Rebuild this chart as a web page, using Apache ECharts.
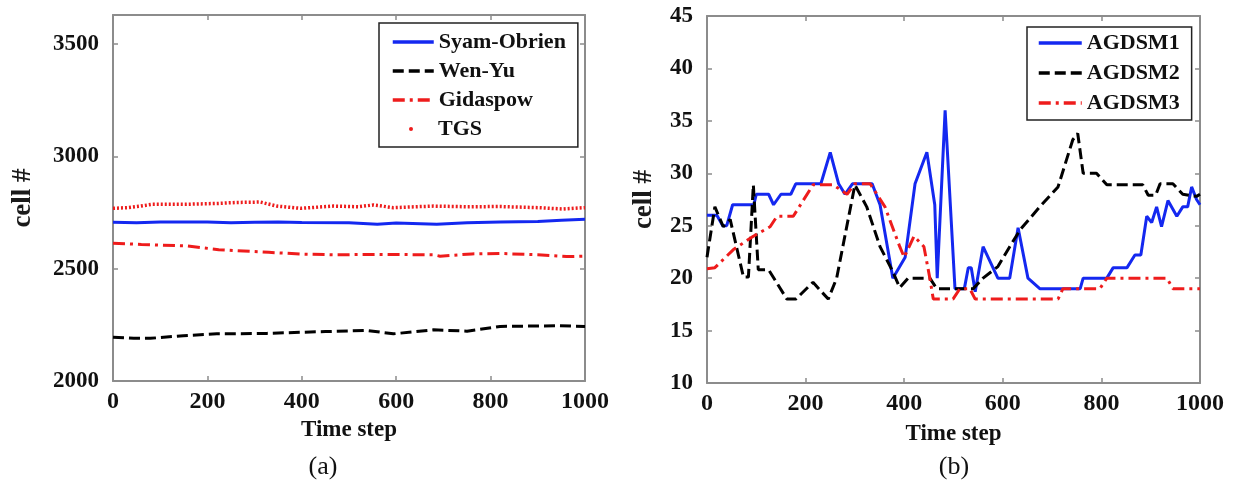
<!DOCTYPE html>
<html>
<head>
<meta charset="utf-8">
<script src="https://cdn.jsdelivr.net/npm/echarts@6/dist/echarts.min.js"></script>
<style>
  html, body { margin: 0; padding: 0; background: #fff; }
  #main { width: 1233px; height: 487px; }
</style>
</head>
<body>
<div id="main"></div>
<script>
// (a) left panel
var syamT = [0, 50, 100, 200, 250, 300, 350, 400, 500, 560, 600, 686, 750, 820, 900, 950, 1000];
var syamV = [2707, 2705, 2708, 2708, 2705, 2707, 2708, 2706, 2705, 2698, 2704, 2698, 2705, 2708, 2710, 2716, 2720];

var wenT = [0, 44, 79, 149, 220, 326, 397, 450, 538, 594, 679, 750, 820, 947, 1000];
var wenV = [2195, 2190, 2190, 2202, 2210, 2212, 2217, 2220, 2225, 2210, 2228, 2222, 2243, 2246, 2243];

var gidT = [0, 60, 154, 224, 330, 400, 467, 560, 679, 693, 760, 820, 900, 961, 1000];
var gidV = [2614, 2608, 2602, 2585, 2573, 2565, 2562, 2564, 2562, 2556, 2566, 2568, 2562, 2554, 2556];

var tgsT = [0, 30, 58, 84, 154, 224, 260, 312, 347, 397, 467, 520, 552, 594, 679, 750, 820, 900, 954, 1000];
var tgsV = [2769, 2772, 2779, 2787, 2787, 2791, 2795, 2797, 2779, 2769, 2779, 2776, 2784, 2772, 2779, 2776, 2777, 2772, 2766, 2772];

// (b) right panel
var ag1T = [0, 20, 32, 40, 52, 95, 100, 125, 135, 150, 170, 180, 231, 250, 267, 280, 295, 335, 351, 377, 402, 422, 446, 462, 467, 483, 503, 522, 530, 536, 544, 560, 590, 614, 631, 651, 675, 757, 763, 811, 824, 852, 868, 880, 892, 902, 912, 922, 935, 953, 965, 975, 983, 993, 1000];
var ag1V = [26, 26, 25, 25, 27, 27, 28, 28, 27, 28, 28, 29, 29, 32, 29, 28, 29, 29, 27, 20, 22, 29, 32, 27, 20, 36, 19, 19, 21, 21, 18.7, 23, 20, 20, 24.8, 20, 19, 19, 20, 20, 21, 21, 22.2, 22.2, 25.9, 25.3, 26.8, 24.9, 27.4, 25.9, 26.8, 26.8, 28.7, 27.5, 27];

var ag2T = [0, 16, 33, 47, 74, 84, 94, 104, 125, 162, 180, 215, 246, 263, 300, 324, 351, 375, 391, 408, 452, 466, 540, 560, 590, 614, 635, 675, 712, 742, 752, 763, 790, 811, 884, 895, 910, 919, 945, 965, 993, 1000];
var ag2V = [22, 26.8, 24.9, 25.6, 20.1, 20.1, 28.9, 20.8, 20.8, 18, 18, 19.6, 18, 20, 28.9, 26.8, 23, 20.8, 19.1, 20, 20, 19, 19, 20, 21.1, 23, 24.6, 26.8, 28.7, 33.2, 33.8, 30, 30, 28.9, 28.9, 27.9, 27.9, 29, 29, 28, 27.8, 28];

var ag3T = [0, 16, 53, 94, 128, 142, 175, 215, 256, 284, 300, 331, 361, 391, 400, 420, 440, 452, 459, 499, 513, 533, 544, 712, 722, 797, 811, 933, 945, 1000];
var ag3V = [20.9, 21, 22.7, 24, 24.9, 25.9, 25.9, 28.9, 28.9, 28, 29, 29, 26.8, 23, 22, 24, 23, 20, 18, 18, 19, 19, 18, 18, 19, 19, 20, 20, 19, 19];

function pairs(t, v) {
    var out = [];
    t.forEach(function (x, i) { out.push([x, v[i]]); });
    return out;
}

var BLUE = '#1428f0';
var RED = '#ee1c1c';
var BLACK = '#000';
var AXIS = '#8c8c8c';
var SERIF = '"Liberation Serif", "Times New Roman", serif';

function plain(v) { return String(v); }

function xAx(grid, pos, gap, show) {
    return {
        type: 'value', gridIndex: grid, position: pos, min: 0, max: 1000, interval: 200,
        name: show ? 'Time step' : '', nameLocation: 'middle', nameGap: gap,
        nameTextStyle: { fontFamily: SERIF, fontWeight: 'bold', fontSize: 23, color: '#111' },
        axisLine: { show: true, onZero: false, lineStyle: { color: AXIS, width: 2 } },
        axisTick: { show: true, inside: true, length: 5, lineStyle: { color: AXIS, width: 1.5 } },
        axisLabel: { show: show, margin: 9, formatter: plain, fontFamily: SERIF, fontWeight: 'bold', fontSize: 24, color: '#111' },
        splitLine: { show: false }
    };
}

function yAx(grid, pos, min, max, step, gap, show) {
    return {
        type: 'value', gridIndex: grid, position: pos, min: min, max: max, interval: step,
        name: show ? 'cell #' : '', nameLocation: 'middle', nameGap: gap,
        nameTextStyle: { fontFamily: SERIF, fontWeight: 'bold', fontSize: 27, color: '#1a1a1a' },
        axisLine: { show: true, onZero: false, lineStyle: { color: AXIS, width: 2 } },
        axisTick: { show: true, inside: true, length: 5, lineStyle: { color: AXIS, width: 1.5 } },
        axisLabel: { show: show, margin: 14, formatter: plain, showMaxLabel: max % step === 0, fontFamily: SERIF, fontWeight: 'bold', fontSize: 23, color: '#111' },
        splitLine: { show: false }
    };
}

function line(name, data, color, type, x, y, width) {
    return {
        name: name, type: 'line', xAxisIndex: x, yAxisIndex: y,
        data: data, symbol: 'none', animation: false,
        lineStyle: { color: color, width: width || 3, type: type },
        itemStyle: { color: color }
    };
}

var legendText = { fontFamily: SERIF, fontWeight: 'bold', fontSize: 22, color: '#111', lineHeight: 22 };

var chart = echarts.init(document.getElementById('main'));
chart.setOption({
    animation: false,
    backgroundColor: '#fff',
    grid: [
        { left: 113, top: 15, width: 472, height: 366 },
        { left: 707, top: 16, width: 493, height: 367 }
    ],
    xAxis: [
        xAx(0, 'bottom', 38, true),
        xAx(0, 'top', 0, false),
        xAx(1, 'bottom', 40, true),
        xAx(1, 'top', 0, false)
    ],
    yAxis: [
        yAx(0, 'left', 2000, 3630, 500, 76, true),
        yAx(0, 'right', 2000, 3630, 500, 0, false),
        yAx(1, 'left', 10, 45, 5, 49, true),
        yAx(1, 'right', 10, 45, 5, 0, false)
    ],
    legend: [
        {
            orient: 'vertical', left: 379, top: 23,
            data: ['Syam-Obrien', 'Wen-Yu', 'Gidaspow'],
            itemWidth: 41, itemHeight: 12, itemGap: 7,
            padding: [8, 12, 36, 12],
            itemStyle: { opacity: 0 },
            lineStyle: { width: 3.5 },
            borderColor: '#222', borderWidth: 1.5, backgroundColor: '#fff',
            textStyle: legendText
        },
        {
            orient: 'vertical', left: 409, top: 118,
            data: [{ name: 'TGS', icon: 'circle' }],
            itemWidth: 4, itemHeight: 4, padding: 0,
            textStyle: Object.assign({ padding: [0, 0, 0, 20] }, legendText)
        },
        {
            orient: 'vertical', left: 1027, top: 27,
            data: ['AGDSM1', 'AGDSM2', 'AGDSM3'],
            itemWidth: 43, itemHeight: 12, itemGap: 8,
            padding: [5, 12, 6, 10],
            itemStyle: { opacity: 0 },
            lineStyle: { width: 3.5 },
            borderColor: '#222', borderWidth: 1.5, backgroundColor: '#fff',
            textStyle: legendText
        }
    ],
    graphic: [
        { type: 'text', x: 323, y: 467, style: { text: '(a)', font: '26px ' + SERIF, fill: '#111', textAlign: 'center', textVerticalAlign: 'middle' } },
        { type: 'text', x: 954, y: 467, style: { text: '(b)', font: '26px ' + SERIF, fill: '#111', textAlign: 'center', textVerticalAlign: 'middle' } }
    ],
    series: [
        line('TGS', pairs(tgsT, tgsV), RED, [2, 2], 0, 0, 3.5),
        line('Syam-Obrien', pairs(syamT, syamV), BLUE, 'solid', 0, 0),
        line('Wen-Yu', pairs(wenT, wenV), BLACK, [11, 5], 0, 0),
        line('Gidaspow', pairs(gidT, gidV), RED, [12, 5, 3, 5], 0, 0),
        line('AGDSM1', pairs(ag1T, ag1V), BLUE, 'solid', 2, 2),
        line('AGDSM2', pairs(ag2T, ag2V), BLACK, [11, 5], 2, 2),
        line('AGDSM3', pairs(ag3T, ag3V), RED, [12, 5, 3, 5], 2, 2)
    ]
});
</script>
</body>
</html>
